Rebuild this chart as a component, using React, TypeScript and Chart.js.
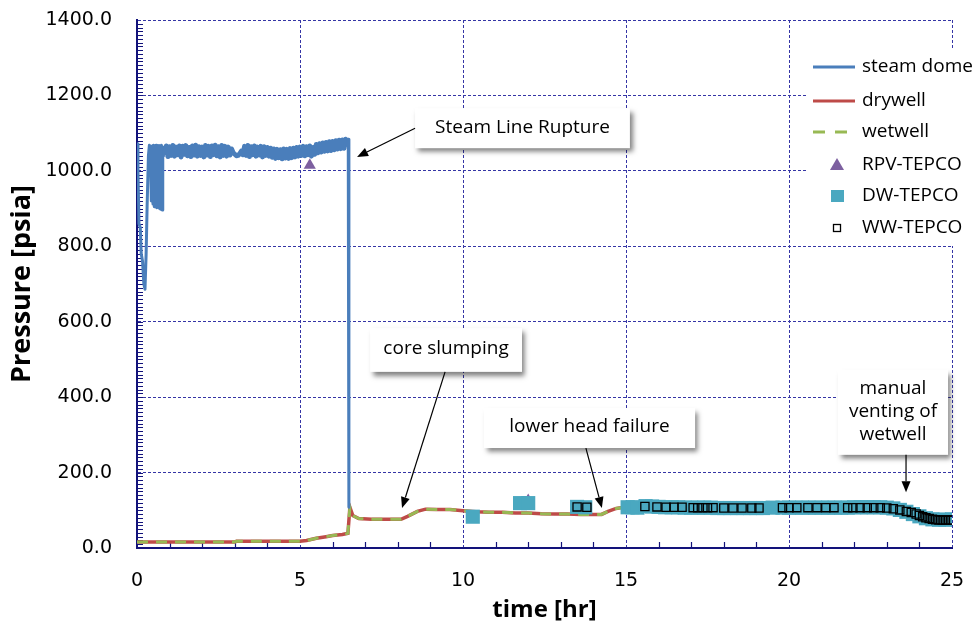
import React, { useEffect, useRef } from 'react';
import { Chart, registerables } from 'chart.js';

Chart.register(...registerables);

// ---------- data (time [hr], pressure [psia]) ----------
const steamDome: [number, number][] = [
  [0, 1072], [0.03, 1000], [0.06, 860], [0.1, 850], [0.13, 780], [0.17, 760], [0.21, 700], [0.245, 686],
  [0.28, 780], [0.31, 905], [0.35, 1040], [0.38, 1068], [0.41, 1060], [0.44, 920], [0.47, 1066], [0.49, 912],
  [0.51, 1068], [0.53, 905], [0.55, 1066], [0.57, 908], [0.59, 1068], [0.61, 902], [0.63, 1064], [0.65, 906],
  [0.67, 1067], [0.69, 900], [0.71, 1065], [0.73, 898], [0.75, 1068], [0.77, 896], [0.79, 1063], [0.81, 1040],
  [0.85, 1042], [0.9, 1066], [0.95, 1038], [1.0, 1064], [1.05, 1041], [1.1, 1067], [1.15, 1039], [1.2, 1063],
  [1.25, 1043], [1.3, 1066], [1.35, 1037], [1.4, 1065], [1.45, 1044], [1.5, 1067], [1.55, 1040], [1.6, 1062],
  [1.65, 1038], [1.7, 1066], [1.75, 1042], [1.8, 1068], [1.85, 1039], [1.9, 1064], [1.95, 1041], [2.0, 1063],
  [2.05, 1037], [2.1, 1067], [2.15, 1042], [2.2, 1065], [2.25, 1038], [2.3, 1066], [2.35, 1043], [2.4, 1068],
  [2.45, 1040], [2.5, 1064], [2.55, 1037], [2.6, 1067], [2.65, 1041], [2.7, 1065], [2.75, 1039], [2.8, 1063],
  [2.85, 1042], [2.9, 1058], [2.95, 1048], [3.0, 1044], [3.05, 1040], [3.1, 1041], [3.15, 1045], [3.2, 1052],
  [3.25, 1043], [3.3, 1065], [3.35, 1041], [3.4, 1067], [3.45, 1038], [3.5, 1064], [3.55, 1043], [3.6, 1066],
  [3.65, 1039], [3.7, 1063], [3.75, 1042], [3.8, 1065], [3.85, 1037], [3.9, 1064], [3.95, 1041], [4.0, 1062],
  [4.05, 1039], [4.1, 1060], [4.15, 1036], [4.2, 1058], [4.25, 1033], [4.3, 1057], [4.35, 1035], [4.4, 1056],
  [4.45, 1032], [4.5, 1058], [4.55, 1034], [4.6, 1057], [4.65, 1033], [4.7, 1059], [4.75, 1035], [4.8, 1060],
  [4.85, 1037], [4.9, 1062], [4.95, 1039], [5.0, 1063], [5.05, 1041], [5.1, 1065], [5.15, 1040], [5.2, 1064],
  [5.25, 1043], [5.3, 1066], [5.35, 1039], [5.4, 1062], [5.45, 1044], [5.5, 1070], [5.55, 1048], [5.6, 1072],
  [5.65, 1050], [5.7, 1074], [5.75, 1052], [5.8, 1075], [5.85, 1053], [5.9, 1077], [5.95, 1054], [6.0, 1078],
  [6.05, 1056], [6.1, 1080], [6.15, 1058], [6.2, 1081], [6.25, 1059], [6.3, 1082], [6.35, 1060], [6.4, 1084],
  [6.45, 1064], [6.48, 1084], [6.5, 108],
];

const drywell: [number, number][] = [
  [0, 16], [1, 16], [2, 16], [3, 16], [3.05, 18], [4, 18], [5, 18], [5.2, 20], [5.5, 26], [5.8, 30],
  [6.0, 33], [6.3, 36], [6.47, 39], [6.53, 108], [6.62, 86], [6.8, 78], [7.2, 76], [7.6, 76], [8.1, 76],
  [8.3, 84], [8.6, 97], [8.85, 103], [9.2, 102], [9.6, 102], [10.0, 99], [10.4, 96], [10.8, 95], [11.2, 95],
  [11.6, 93], [12.0, 93], [12.4, 91], [12.8, 90], [13.2, 90], [13.6, 89], [14.0, 89], [14.25, 89],
  [14.45, 97], [14.7, 105], [15.0, 109], [15.5, 110], [16, 108], [17, 107], [18, 106], [19, 106], [20, 107],
  [21, 107], [22, 107], [23, 106], [23.3, 102], [23.6, 95], [23.9, 86], [24.2, 78], [24.5, 75], [25, 75],
];

const wetwell: [number, number][] = [
  [0, 16], [1, 16], [2, 16], [3, 16], [3.05, 18], [4, 18], [5, 18], [5.2, 20], [5.5, 26], [5.8, 30],
  [6.0, 33], [6.3, 36], [6.47, 39], [6.53, 108], [6.62, 86], [6.8, 78], [7.2, 76], [7.6, 76], [8.1, 76],
  [8.3, 84], [8.6, 97], [8.85, 103], [9.2, 102], [9.6, 102], [10.0, 99], [10.4, 96], [10.8, 95], [11.2, 95],
  [11.6, 93], [12.0, 93], [12.4, 91], [12.8, 90], [13.2, 90], [13.6, 89], [14.0, 89], [14.25, 89],
  [14.45, 97], [14.7, 105], [15.0, 109], [15.5, 110], [16, 108], [17, 107], [18, 106], [19, 106], [20, 107],
  [21, 107], [22, 107], [23, 106], [23.3, 102], [23.6, 95], [23.9, 86], [24.2, 78], [24.5, 75], [25, 75],
];

const rpvTepco: [number, number][] = [
  [5.3, 1015], [12.0, 126],
];

const dwTepco: [number, number][] = [
  [10.3, 83], [11.75, 119], [12.0, 119], [13.5, 109], [13.75, 108], [15.05, 108], [15.2, 108], [15.35, 107],
  [15.6, 111], [15.8, 110], [16.0, 109], [16.2, 108], [16.4, 108], [16.6, 108], [16.8, 107], [17.0, 107],
  [17.2, 107], [17.4, 107], [17.6, 107], [17.8, 106], [18.0, 106], [18.2, 106], [18.4, 106], [18.6, 106],
  [18.8, 106], [19.0, 106], [19.2, 106], [19.5, 107], [19.8, 107], [20.0, 107], [20.2, 107], [20.4, 107],
  [20.6, 107], [20.8, 107], [21.0, 107], [21.2, 107], [21.4, 107], [21.6, 107], [21.8, 107], [22.0, 108],
  [22.2, 108], [22.4, 108], [22.6, 108], [22.8, 108], [23.0, 107], [23.2, 105], [23.4, 101], [23.6, 96],
  [23.8, 90], [24.0, 84], [24.2, 79], [24.4, 76], [24.6, 75], [24.8, 75], [25.0, 76],
];

const wwTepco: [number, number][] = [
  [13.5, 109], [13.8, 108], [15.58, 110], [15.95, 109], [16.23, 108], [16.47, 108], [16.72, 108],
  [17.06, 107], [17.2, 107], [17.36, 107], [17.5, 107], [17.67, 107], [18.0, 106], [18.28, 106],
  [18.56, 106], [18.86, 106], [19.08, 106], [19.8, 107], [20.0, 107], [20.24, 107], [20.58, 107],
  [20.86, 107], [21.13, 107], [21.38, 107], [21.8, 107], [21.96, 107], [22.18, 107], [22.4, 107],
  [22.6, 107], [22.8, 107], [23.0, 106], [23.2, 104], [23.4, 101], [23.6, 97], [23.75, 94], [23.9, 90],
  [24.0, 86], [24.1, 83], [24.2, 80], [24.3, 78], [24.4, 76], [24.5, 75], [24.6, 74], [24.7, 74],
  [24.8, 74], [24.9, 74], [25.0, 74],
];

const xTickLabels = ['0', '5', '10', '15', '20', '25'];
const yTickLabels = ['0.0', '200.0', '400.0', '600.0', '800.0', '1000.0', '1200.0', '1400.0'];
const legendLabels = ['steam dome', 'drywell', 'wetwell', 'RPV-TEPCO', 'DW-TEPCO', 'WW-TEPCO'];

// annotation boxes in data units: [t1, P1, t2, P2], arrow [tFrom, PFrom, tTo, PTo]
const annotations = [
  { lines: ['Steam Line Rupture'], box: [8.53, 1166, 15.12, 1060], arrow: [8.53, 1113, 6.75, 1037] },
  { lines: ['core slumping'], box: [7.15, 583, 11.81, 467], arrow: [9.45, 467, 8.13, 106] },
  { lines: ['lower head failure'], box: [10.64, 371, 17.12, 265], arrow: [13.77, 265, 14.26, 106] },
  { lines: ['manual', 'venting of', 'wetwell'], box: [21.5, 472, 24.88, 247], arrow: [23.59, 247, 23.59, 148] },
];

const COLORS = {
  steam: '#4A7EBB',
  dry: '#BE4B48',
  wet: '#98B954',
  rpv: '#7D60A0',
  dw: '#4AA8C0',
  ww: '#000000',
  axis: '#12127a',
  grid: '#3535a5',
};

const toXY = (arr: [number, number][]) => arr.map(([x, y]) => ({ x, y }));

function drawArrow(ctx: CanvasRenderingContext2D, x1: number, y1: number, x2: number, y2: number) {
  const ang = Math.atan2(y2 - y1, x2 - x1);
  const hl = 11;
  const hw = 4.5;
  const bx = x2 - hl * Math.cos(ang);
  const by = y2 - hl * Math.sin(ang);
  ctx.beginPath();
  ctx.moveTo(x1, y1);
  ctx.lineTo(bx, by);
  ctx.stroke();
  ctx.beginPath();
  ctx.moveTo(x2, y2);
  ctx.lineTo(bx + hw * Math.sin(ang), by - hw * Math.cos(ang));
  ctx.lineTo(bx - hw * Math.sin(ang), by + hw * Math.cos(ang));
  ctx.closePath();
  ctx.fill();
}

const overlayPlugin = {
  id: 'overlay',
  beforeDatasetsDraw(chart: any) {
    const { ctx, scales, chartArea } = chart;
    const x = scales.x;
    const y = scales.y;
    ctx.save();
    ctx.strokeStyle = COLORS.axis;
    ctx.lineWidth = 1.2;
    ctx.beginPath();
    for (let v = 10; v < 1400; v += 10) {
      const py = Math.round(y.getPixelForValue(v)) + 0.5;
      ctx.moveTo(chartArea.left, py);
      ctx.lineTo(chartArea.left + 6, py);
    }
    for (let t = 1; t < 25; t++) {
      if (t % 5 === 0) continue;
      const px = Math.round(x.getPixelForValue(t)) + 0.5;
      ctx.moveTo(px, chartArea.bottom);
      ctx.lineTo(px, chartArea.bottom - 6);
    }
    ctx.stroke();
    ctx.restore();
  },
  afterDraw(chart: any) {
    const { ctx, scales } = chart;
    const x = scales.x;
    const y = scales.y;
    ctx.save();
    // annotations
    ctx.font = '19px "Open Sans"';
    for (const a of annotations) {
      const bx1 = x.getPixelForValue(a.box[0]);
      const by1 = y.getPixelForValue(a.box[1]);
      const bx2 = x.getPixelForValue(a.box[2]);
      const by2 = y.getPixelForValue(a.box[3]);
      ctx.save();
      ctx.shadowColor = 'rgba(0,0,0,0.5)';
      ctx.shadowBlur = 5;
      ctx.shadowOffsetX = 3;
      ctx.shadowOffsetY = 4;
      ctx.fillStyle = '#ffffff';
      ctx.fillRect(bx1, by1, bx2 - bx1, by2 - by1);
      ctx.restore();
      ctx.fillStyle = '#000';
      ctx.textAlign = 'center';
      ctx.textBaseline = 'middle';
      const cx = (bx1 + bx2) / 2;
      const cy = (by1 + by2) / 2;
      const lh = 23;
      a.lines.forEach((ln, i) => {
        ctx.fillText(ln, cx, cy + (i - (a.lines.length - 1) / 2) * lh - 1);
      });
      ctx.strokeStyle = '#000';
      ctx.fillStyle = '#000';
      ctx.lineWidth = 1.2;
      drawArrow(
        ctx,
        x.getPixelForValue(a.arrow[0]),
        y.getPixelForValue(a.arrow[1]),
        x.getPixelForValue(a.arrow[2]),
        y.getPixelForValue(a.arrow[3])
      );
    }
    // legend
    const lx = 808;
    const ly = 48;
    ctx.fillStyle = '#ffffff';
    ctx.fillRect(lx, ly, 976 - lx, 198);
    const rows = [67, 101, 132, 165, 196, 228];
    ctx.font = '19px "Open Sans"';
    ctx.textAlign = 'left';
    ctx.textBaseline = 'middle';
    rows.forEach((ry, i) => {
      ctx.fillStyle = '#000';
      ctx.fillText(legendLabels[i], 862, ry);
    });
    ctx.lineWidth = 3;
    ctx.strokeStyle = COLORS.steam;
    ctx.beginPath(); ctx.moveTo(813, rows[0]); ctx.lineTo(855, rows[0]); ctx.stroke();
    ctx.strokeStyle = COLORS.dry;
    ctx.beginPath(); ctx.moveTo(813, rows[1]); ctx.lineTo(855, rows[1]); ctx.stroke();
    ctx.strokeStyle = COLORS.wet;
    ctx.setLineDash([12, 10]);
    ctx.beginPath(); ctx.moveTo(813, rows[2]); ctx.lineTo(855, rows[2]); ctx.stroke();
    ctx.setLineDash([]);
    ctx.fillStyle = COLORS.rpv;
    ctx.beginPath();
    ctx.moveTo(837, rows[3] - 7);
    ctx.lineTo(844, rows[3] + 5);
    ctx.lineTo(830, rows[3] + 5);
    ctx.closePath();
    ctx.fill();
    ctx.fillStyle = COLORS.dw;
    ctx.fillRect(831, rows[4] - 6, 13, 12);
    ctx.strokeStyle = '#000';
    ctx.lineWidth = 1.3;
    ctx.strokeRect(833.5, rows[5] - 3.5, 7, 7);
    ctx.restore();
  },
};

export default function App() {
  const ref = useRef<HTMLCanvasElement>(null);
  useEffect(() => {
    if (!ref.current) return;
    const chart = new Chart(ref.current, {
      type: 'line',
      data: {
        datasets: [
          {
            label: 'steam dome', data: toXY(steamDome), borderColor: COLORS.steam, backgroundColor: COLORS.steam,
            borderWidth: 3, pointRadius: 0, tension: 0, order: 4, borderJoinStyle: 'round',
            segment: {
              borderWidth: (c: any) => (c.p0.parsed.x >= 0.82 && c.p1.parsed.x <= 6.46 ? 5 : 3),
            },
          },
          { label: 'drywell', data: toXY(drywell), borderColor: COLORS.dry, backgroundColor: COLORS.dry, borderWidth: 3.5, pointRadius: 0, tension: 0, order: 6 },
          { label: 'wetwell', data: toXY(wetwell), borderColor: COLORS.wet, backgroundColor: COLORS.wet, borderWidth: 3, borderDash: [11, 8], pointRadius: 0, tension: 0, order: 5 },
          { label: 'RPV-TEPCO', data: toXY(rpvTepco), showLine: false, pointStyle: 'triangle', pointRadius: 7, backgroundColor: COLORS.rpv, borderColor: COLORS.rpv, borderWidth: 0, order: 3 },
          { label: 'DW-TEPCO', data: toXY(dwTepco), showLine: false, pointStyle: 'rect', pointRadius: 10, backgroundColor: COLORS.dw, borderColor: COLORS.dw, borderWidth: 0, order: 2 },
          { label: 'WW-TEPCO', data: toXY(wwTepco), showLine: false, pointStyle: 'rect', pointRadius: 5.8, backgroundColor: 'rgba(0,0,0,0)', borderColor: COLORS.ww, borderWidth: 1.3, order: 1 },
        ] as any,
      },
      options: {
        responsive: false,
        animation: false,
        devicePixelRatio: 1,
        layout: { autoPadding: false, padding: { left: 0, top: 20, right: 24, bottom: 0 } },
        plugins: { legend: { display: false }, tooltip: { enabled: false } },
        events: [],
        scales: {
          x: {
            type: 'linear',
            min: 0,
            max: 25,
            afterFit: (s: any) => { s.height = 77; },
            ticks: {
              stepSize: 5,
              maxRotation: 0,
              color: '#000',
              padding: 0,
              font: { family: 'DejaVu Sans', size: 19 },
              callback: (v: any) => xTickLabels[Math.round(Number(v) / 5)] ?? '',
            },
            grid: { color: COLORS.grid, lineWidth: 1, drawTicks: true, tickLength: 22, tickColor: 'rgba(0,0,0,0)' },
            border: { color: COLORS.axis, width: 2, dash: [3, 2] },
            title: {
              display: true,
              text: 'time [hr]',
              color: '#000',
              font: { family: 'Open Sans', size: 24, weight: 'bold' },
              padding: { top: 0, bottom: 0 },
            },
          },
          y: {
            type: 'linear',
            min: 0,
            max: 1400,
            afterFit: (s: any) => { s.width = 137; },
            ticks: {
              stepSize: 200,
              color: '#000',
              padding: 0,
              font: { family: 'DejaVu Sans', size: 19 },
              callback: (v: any) => yTickLabels[Math.round(Number(v) / 200)] ?? '',
            },
            grid: { color: COLORS.grid, lineWidth: 1, drawTicks: true, tickLength: 25, tickColor: 'rgba(0,0,0,0)' },
            border: { color: COLORS.axis, width: 2, dash: [3, 2] },
            title: {
              display: true,
              text: 'Pressure [psia]',
              color: '#000',
              font: { family: 'Open Sans', size: 27, weight: 'bold' },
              padding: { top: 6, bottom: 0 },
            },
          },
        },
      } as any,
      plugins: [overlayPlugin],
    });
    return () => chart.destroy();
  }, []);
  return (
    <div style={{ position: 'absolute', left: 0, top: 0, width: 976, height: 625, background: '#fff' }}>
      <canvas ref={ref} width={976} height={625} style={{ display: 'block' }} />
    </div>
  );
}
